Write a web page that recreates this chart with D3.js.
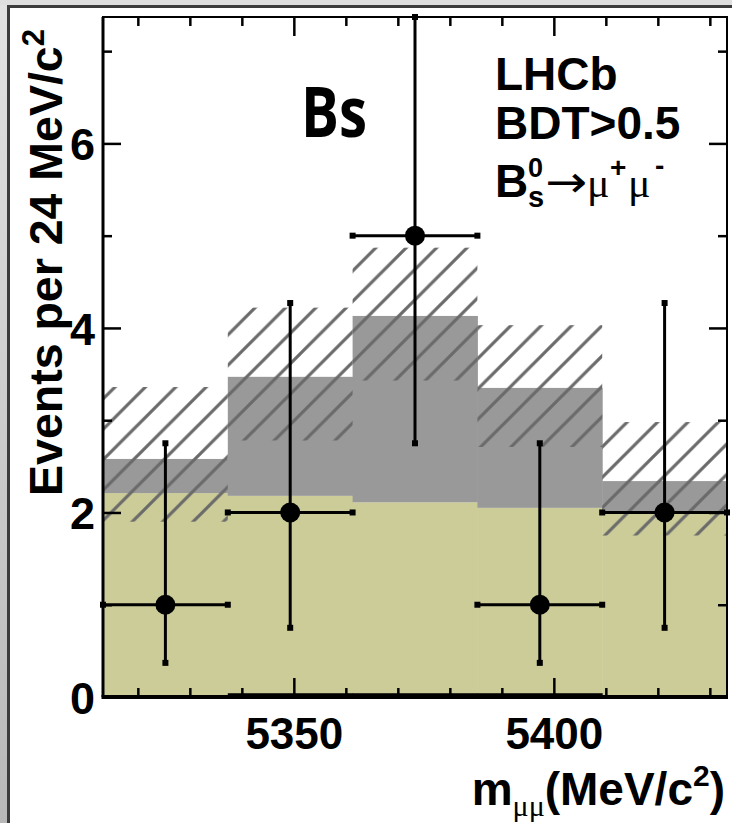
<!DOCTYPE html>
<html>
<head>
<meta charset="utf-8">
<script src="https://cdn.jsdelivr.net/npm/d3@7"></script>
<style>
  body { margin: 0; background: #fff; }
  svg { display: block; font-family: "Liberation Sans", Arial, sans-serif; font-weight: bold; }
</style>
</head>
<body>
<script>
// bins of 24 MeV/c^2 (low edges)
const binLow = [5313.3, 5337.3, 5361.3, 5385.3, 5409.3];
const binWidth = 24;
// expected yields per bin
const combinatorial = [2.21, 2.18, 2.11, 2.05, 2.01];
const signal = [0.37, 1.29, 2.02, 1.30, 0.33];
const peaking = [0, 0.03, 0.03, 0.03, 0];
// uncertainty band on total expectation
const bandLow = [1.90, 2.78, 3.43, 2.71, 1.75];
const bandHigh = [3.36, 4.22, 4.87, 4.03, 2.98];
// observed events with asymmetric errors
const observed = [1, 2, 5, 1, 2];
const errLow = [0.37, 0.75, 2.75, 0.37, 0.75];
const errHigh = [2.75, 4.27, 7.37, 2.75, 4.27];
// ticks
const xMajor = [5350, 5400];
const xMinor = [5320, 5330, 5340, 5360, 5370, 5380, 5390, 5410, 5420, 5430];
const yMajor = [0, 2, 4, 6];
const yMinor = [1, 3, 5, 7];

const W = 732, H = 823;
const plot = { left: 103, right: 727, top: 17, bottom: 697 };

const x = d3.scaleLinear().domain([5313.3, 5433.3]).range([plot.left, plot.right]);
const y = d3.scaleLinear().domain([0, 7.37]).range([plot.bottom, plot.top]);

const svg = d3.select("body").append("svg").attr("width", W).attr("height", H);
const defs = svg.append("defs");

// outer grey border
const grad = defs.append("linearGradient").attr("id", "edge").attr("x1", 0).attr("y1", 0).attr("x2", 0).attr("y2", 1);
grad.append("stop").attr("offset", 0).attr("stop-color", "#e2e2e2");
grad.append("stop").attr("offset", 1).attr("stop-color", "#b8b8b8");
svg.append("rect").attr("x", 0).attr("y", 0).attr("width", 7).attr("height", H).attr("fill", "url(#edge)");
svg.append("rect").attr("x", 0).attr("y", 0).attr("width", W).attr("height", 5).attr("fill", "#dedede");
svg.append("rect").attr("x", 7).attr("y", 5).attr("width", 3).attr("height", H).attr("fill", "#3c3c3c");
svg.append("rect").attr("x", 7).attr("y", 5).attr("width", W).attr("height", 3).attr("fill", "#3c3c3c");

// hatch pattern
const sp = 30.4;
const pat = defs.append("pattern").attr("id", "hatch").attr("patternUnits", "userSpaceOnUse")
  .attr("width", sp).attr("height", sp).attr("patternTransform", "translate(15.6,0)");
pat.append("path").attr("d", `M0,${sp} L${sp},0 M${-sp / 2},${sp / 2} L${sp / 2},${-sp / 2} M${sp / 2},${sp * 1.5} L${sp * 1.5},${sp / 2}`)
  .attr("stroke", "#6a6a6a").attr("stroke-width", 3.2);

defs.append("clipPath").attr("id", "clip").append("rect")
  .attr("x", plot.left).attr("y", plot.top).attr("width", plot.right - plot.left).attr("height", plot.bottom - plot.top);

const bins = binLow.map((lo, i) => ({
  lo, hi: lo + binWidth, mid: lo + binWidth / 2,
  comb: combinatorial[i], sig: signal[i], peak: peaking[i],
  bLo: bandLow[i], bHi: bandHigh[i],
  n: observed[i], eLo: errLow[i], eHi: errHigh[i]
}));

const g = svg.append("g").attr("clip-path", "url(#clip)");
const bx = d => x(d.lo);
const bw = d => x(d.hi) - x(d.lo);

// combinatorial background
g.append("g").selectAll("rect").data(bins).join("rect")
  .attr("x", bx).attr("width", d => bw(d) + 0.5)
  .attr("y", d => y(d.comb)).attr("height", d => y(0) - y(d.comb))
  .attr("fill", "#cccc99");
// signal stacked
g.append("g").selectAll("rect").data(bins).join("rect")
  .attr("x", bx).attr("width", d => bw(d) + 0.5)
  .attr("y", d => y(d.comb + d.sig)).attr("height", d => y(d.comb) - y(d.comb + d.sig))
  .attr("fill", "#999999");
// peaking background
g.append("g").selectAll("rect").data(bins.filter(d => d.peak > 0)).join("rect")
  .attr("x", bx).attr("width", d => bw(d) + 0.5)
  .attr("y", d => y(d.peak) - 1).attr("height", d => y(0) - y(d.peak) + 1)
  .attr("fill", "#000");
// uncertainty band
g.append("g").selectAll("rect").data(bins).join("rect")
  .attr("x", bx).attr("width", bw)
  .attr("y", d => y(d.bHi)).attr("height", d => y(d.bLo) - y(d.bHi))
  .attr("fill", "url(#hatch)");

// data points
const pts = svg.append("g").attr("stroke", "#000").attr("stroke-width", 3);
pts.selectAll("line.h").data(bins).join("line").attr("class", "h")
  .attr("x1", d => x(d.lo)).attr("x2", d => x(d.hi))
  .attr("y1", d => y(d.n)).attr("y2", d => y(d.n));
pts.selectAll("line.v").data(bins).join("line").attr("class", "v")
  .attr("x1", d => x(d.mid)).attr("x2", d => x(d.mid))
  .attr("y1", d => y(d.eLo)).attr("y2", d => y(d.eHi));
const caps = [];
bins.forEach(d => {
  caps.push([x(d.lo), y(d.n)], [x(d.hi), y(d.n)], [x(d.mid), y(d.eLo)], [x(d.mid), y(d.eHi)]);
});
svg.append("g").selectAll("rect").data(caps).join("rect")
  .attr("x", d => d[0] - 3).attr("y", d => d[1] - 3).attr("width", 6).attr("height", 6).attr("fill", "#000");
svg.append("g").selectAll("circle").data(bins).join("circle")
  .attr("cx", d => x(d.mid)).attr("cy", d => y(d.n)).attr("r", 10).attr("fill", "#000");

// frame
svg.append("rect").attr("x", plot.left).attr("y", plot.top)
  .attr("width", plot.right - plot.left).attr("height", plot.bottom - plot.top)
  .attr("fill", "none").attr("stroke", "#000").attr("stroke-width", 2);
svg.append("line").attr("x1", plot.left).attr("x2", plot.left).attr("y1", plot.top).attr("y2", plot.bottom)
  .attr("stroke", "#000").attr("stroke-width", 3);
svg.append("line").attr("x1", plot.left - 1.5).attr("x2", plot.right + 1).attr("y1", plot.bottom).attr("y2", plot.bottom)
  .attr("stroke", "#000").attr("stroke-width", 4);

// axes with inward ticks
function styleAxis(sel) {
  sel.select(".domain").remove();
  sel.selectAll(".tick line").attr("stroke", "#000").attr("stroke-width", 2.5);
  sel.selectAll("text").attr("fill", "#000").attr("font-family", "Liberation Sans, Arial, sans-serif")
    .attr("font-weight", "bold");
}
const fmt = d3.format("d");
svg.append("g").attr("transform", `translate(0,${plot.bottom})`)
  .call(d3.axisBottom(x).tickValues(xMajor).tickSize(-19).tickPadding(21).tickFormat(fmt))
  .call(styleAxis).selectAll("text").attr("font-size", 44);
svg.append("g").attr("transform", `translate(0,${plot.bottom})`)
  .call(d3.axisBottom(x).tickValues(xMinor).tickSize(-9).tickFormat(""))
  .call(styleAxis);
svg.append("g").attr("transform", `translate(0,${plot.top})`)
  .call(d3.axisTop(x).tickValues(xMajor).tickSize(-19).tickFormat(""))
  .call(styleAxis);
svg.append("g").attr("transform", `translate(0,${plot.top})`)
  .call(d3.axisTop(x).tickValues(xMinor).tickSize(-9).tickFormat(""))
  .call(styleAxis);
svg.append("g").attr("transform", `translate(${plot.left},0)`)
  .call(d3.axisLeft(y).tickValues(yMajor).tickSize(-18).tickPadding(8).tickFormat(fmt))
  .call(styleAxis).selectAll("text").attr("font-size", 45).attr("dy", "0.36em");
svg.append("g").attr("transform", `translate(${plot.left},0)`)
  .call(d3.axisLeft(y).tickValues(yMinor).tickSize(-9).tickFormat(""))
  .call(styleAxis);
svg.append("g").attr("transform", `translate(${plot.right},0)`)
  .call(d3.axisRight(y).tickValues(yMajor).tickSize(-18).tickFormat(""))
  .call(styleAxis);
svg.append("g").attr("transform", `translate(${plot.right},0)`)
  .call(d3.axisRight(y).tickValues(yMinor).tickSize(-9).tickFormat(""))
  .call(styleAxis);

// axis titles
const yTitle = svg.append("text").attr("transform", "translate(62,29) rotate(-90)")
  .attr("text-anchor", "end").attr("font-size", 46.5);
yTitle.append("tspan").text("Events per 24 MeV/c");
yTitle.append("tspan").attr("font-size", 31).attr("dy", -18).text("2");

const xTitle = svg.append("text").attr("x", 725).attr("y", 805).attr("text-anchor", "end").attr("font-size", 46);
xTitle.append("tspan").text("m");
xTitle.append("tspan").attr("font-size", 30).attr("font-weight", "normal")
  .attr("font-family", "Liberation Serif, serif").attr("dy", 11).text("μμ");
xTitle.append("tspan").attr("dy", -11).text("(MeV/c");
xTitle.append("tspan").attr("font-size", 30).attr("dy", -19).text("2");
xTitle.append("tspan").attr("dy", 19).text(")");

// legend text
svg.append("text").attr("x", 495).attr("y", 90).attr("font-size", 46).text("LHCb");
svg.append("text").attr("x", 495).attr("y", 139).attr("font-size", 46).text("BDT>0.5");
const decay = svg.append("text").attr("x", 495).attr("y", 197).attr("font-size", 46);
decay.append("tspan").text("B");
decay.append("tspan").attr("x", 528).attr("dy", -20).attr("font-size", 27).text("0");
decay.append("tspan").attr("x", 528).attr("dy", 30).attr("font-size", 29).text("s");
svg.append("text").attr("x", 545).attr("y", 197).attr("font-size", 44).attr("font-weight", "normal")
  .attr("font-family", "DejaVu Sans, sans-serif").attr("textLength", 42).attr("lengthAdjust", "spacingAndGlyphs").text("→");
const muPlus = svg.append("text").attr("x", 587).attr("y", 197).attr("font-size", 42);
muPlus.append("tspan").attr("font-weight", "normal").attr("font-family", "Liberation Serif, serif").text("μ");
muPlus.append("tspan").attr("x", 610).attr("dy", -20).attr("font-size", 28).text("+");
const muMinus = svg.append("text").attr("x", 628).attr("y", 197).attr("font-size", 42);
muMinus.append("tspan").attr("font-weight", "normal").attr("font-family", "Liberation Serif, serif").text("μ");
muMinus.append("tspan").attr("x", 655).attr("dy", -22).attr("font-size", 28).text("-");

// large label
svg.append("text").attr("x", 301).attr("y", 137).attr("font-size", 70)
  .attr("font-family", "Open Sans, sans-serif").attr("font-weight", "bold")
  .attr("textLength", 66).attr("lengthAdjust", "spacingAndGlyphs").text("Bs");
</script>
</body>
</html>
